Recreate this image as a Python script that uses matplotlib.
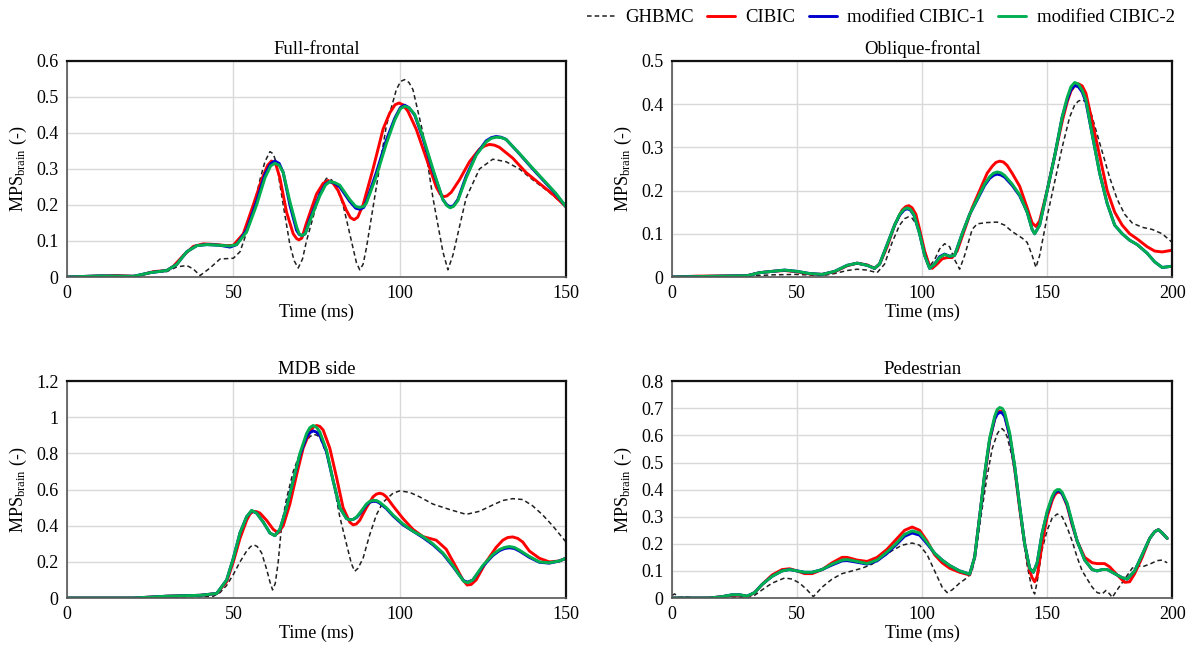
import matplotlib
matplotlib.use("Agg")
import matplotlib.pyplot as plt
from matplotlib.ticker import FuncFormatter, MultipleLocator

plt.rcParams["font.family"] = ["Liberation Serif", "DejaVu Serif"]
plt.rcParams["mathtext.fontset"] = "custom"
plt.rcParams["mathtext.rm"] = "Liberation Serif"
plt.rcParams["mathtext.it"] = "Liberation Serif:italic"

SERIES = ["GHBMC", "CIBIC", "modified CIBIC-1", "modified CIBIC-2"]

# ---- Full-frontal ----
ff_ghbmc_t = [0, 10, 20, 25, 30, 33, 36, 38, 40, 43, 46, 50, 52, 55, 58, 59.5, 61, 62, 63, 65, 67, 68.3, 69.5, 70.8, 72,
              75, 76.5, 78, 79.5, 81, 83, 86, 87, 88, 89, 90, 93, 96, 99, 100.3, 101.5, 102.8, 104, 107, 110, 113, 114.5,
              116, 117, 120, 124, 128, 132, 136, 140, 145, 150]
ff_ghbmc_y = [0, 0.002, 0.0, 0.012, 0.015, 0.028, 0.032, 0.022, 0.004, 0.025, 0.05, 0.052, 0.07, 0.15, 0.27, 0.32, 0.348,
              0.342, 0.315, 0.2, 0.09, 0.045, 0.025, 0.05, 0.1, 0.2, 0.25, 0.274, 0.27, 0.25, 0.2, 0.08, 0.04, 0.02, 0.035,
              0.08, 0.25, 0.42, 0.52, 0.543, 0.548, 0.54, 0.52, 0.4, 0.22, 0.07, 0.02, 0.06, 0.1, 0.22, 0.3, 0.327, 0.32,
              0.3, 0.27, 0.235, 0.195]
ff_cibic_t = [0, 10, 15, 20, 22, 26, 30, 32, 35, 38, 41, 45, 48, 50, 53, 56, 58.5, 60.3, 61.5, 62.8, 64, 66, 68, 69, 69.7,
              70.6, 72, 75, 77, 78.5, 80, 81.5, 84, 85.2, 86.3, 87.4, 89, 92, 95, 97, 98.6, 99.8, 101, 102.5, 105, 108,
              111, 112.2, 113.2, 114.2, 115.5, 118, 121, 124, 125.6, 127, 128.5, 130, 134, 138, 142, 146, 150]
ff_cibic_y = [0, 0.003, 0.004, 0.002, 0.005, 0.015, 0.018, 0.03, 0.06, 0.085, 0.092, 0.09, 0.087, 0.088, 0.12, 0.2, 0.27,
              0.31, 0.322, 0.312, 0.275, 0.18, 0.12, 0.107, 0.103, 0.108, 0.15, 0.23, 0.26, 0.268, 0.26, 0.24, 0.185,
              0.165, 0.159, 0.166, 0.2, 0.3, 0.41, 0.455, 0.478, 0.483, 0.478, 0.46, 0.41, 0.33, 0.25, 0.23, 0.223, 0.225,
              0.235, 0.27, 0.32, 0.355, 0.364, 0.368, 0.366, 0.36, 0.33, 0.29, 0.26, 0.23, 0.195]
ff_mod1_t = [0, 10, 20, 25, 30, 33, 36, 39, 42, 46, 49, 51, 54, 57, 59.5, 61.2, 62.5, 63.8, 65, 67, 69, 69.8, 70.6, 71.6,
             73, 76, 77.7, 79, 80.5, 82, 85, 86.8, 88, 89.2, 90, 93, 96, 98.5, 100.2, 101.5, 102.8, 104.5, 107, 110, 113,
             114.2, 115.2, 116.2, 117.5, 120, 123, 126, 127.6, 129, 130.5, 132, 136, 140, 144, 147, 150]
ff_mod1_y = [0, 0.003, 0.002, 0.012, 0.018, 0.035, 0.07, 0.087, 0.09, 0.088, 0.083, 0.09, 0.13, 0.21, 0.285, 0.314, 0.322,
             0.315, 0.29, 0.2, 0.13, 0.118, 0.115, 0.12, 0.16, 0.23, 0.258, 0.265, 0.26, 0.25, 0.21, 0.191, 0.188, 0.193,
             0.21, 0.29, 0.38, 0.44, 0.47, 0.477, 0.47, 0.45, 0.385, 0.295, 0.215, 0.2, 0.195, 0.198, 0.215, 0.28, 0.34,
             0.378, 0.387, 0.39, 0.388, 0.382, 0.342, 0.3, 0.26, 0.23, 0.195]
ff_mod2_t = ff_mod1_t
ff_mod2_y = [0, 0.003, 0.002, 0.012, 0.018, 0.035, 0.07, 0.087, 0.09, 0.088, 0.086, 0.09, 0.125, 0.2, 0.275, 0.308, 0.316,
             0.31, 0.29, 0.21, 0.14, 0.12, 0.115, 0.12, 0.155, 0.225, 0.255, 0.265, 0.262, 0.255, 0.215, 0.196, 0.193,
             0.196, 0.205, 0.28, 0.37, 0.435, 0.467, 0.474, 0.47, 0.452, 0.39, 0.3, 0.215, 0.198, 0.192, 0.196, 0.212,
             0.275, 0.338, 0.375, 0.385, 0.388, 0.387, 0.382, 0.343, 0.302, 0.262, 0.232, 0.195]

# ---- Oblique-frontal ----
of_ghbmc_t = [0, 10, 30, 40, 50, 60, 65, 70, 74, 78, 82, 85, 88, 91, 93, 94.5, 96, 98, 100, 103, 105, 107, 109, 111, 113,
              115, 117, 120, 122, 126, 130, 133, 136, 140, 142, 144, 145.5, 147, 150, 153, 156, 159, 161, 162.5, 164,
              165.5, 167, 169, 172, 175, 178, 181, 184, 188, 192, 196, 200]
of_ghbmc_y = [0, 0, 0.002, 0.005, 0.006, 0.003, 0.008, 0.015, 0.018, 0.016, 0.01, 0.03, 0.08, 0.12, 0.135, 0.139, 0.136,
              0.12, 0.08, 0.025, 0.04, 0.065, 0.077, 0.07, 0.04, 0.018, 0.05, 0.11, 0.123, 0.126, 0.127, 0.12, 0.105, 0.09,
              0.08, 0.05, 0.022, 0.05, 0.14, 0.22, 0.3, 0.37, 0.398, 0.407, 0.41, 0.405, 0.39, 0.35, 0.29, 0.23, 0.18,
              0.145, 0.125, 0.115, 0.11, 0.1, 0.08]
of_cibic_t = [0, 10, 30, 35, 40, 45, 50, 55, 60, 65, 70, 74, 78, 81, 83, 86, 89, 92, 93.5, 94.7, 96, 97.5, 99, 101, 103,
              104, 106, 108, 110, 112, 114, 117, 120, 123, 126, 128, 129.5, 131, 132.5, 134, 136, 139, 142, 144, 145.5,
              147, 150, 153, 156, 158, 159.5, 161, 162.5, 164, 165.5, 168, 171, 174, 177, 180, 183, 186, 190, 193, 196,
              200]
of_cibic_y = [0, 0.002, 0.003, 0.01, 0.013, 0.015, 0.012, 0.007, 0.006, 0.012, 0.026, 0.032, 0.028, 0.02, 0.03, 0.07,
              0.12, 0.155, 0.163, 0.165, 0.16, 0.145, 0.11, 0.06, 0.025, 0.02, 0.03, 0.042, 0.045, 0.045, 0.06, 0.11,
              0.16, 0.2, 0.24, 0.256, 0.265, 0.268, 0.266, 0.258, 0.24, 0.21, 0.16, 0.125, 0.117, 0.13, 0.2, 0.28, 0.36,
              0.405, 0.43, 0.443, 0.447, 0.442, 0.425, 0.36, 0.28, 0.2, 0.15, 0.12, 0.1, 0.088, 0.07, 0.06, 0.058, 0.062]
of_mod1_t = [0, 30, 35, 40, 45, 50, 55, 60, 65, 70, 74, 78, 81, 83, 86, 89, 91, 92.8, 94, 95.3, 96.8, 99, 101, 103, 105,
             107, 109, 111, 113, 116, 119, 122, 125, 127, 128.5, 130, 131.5, 133, 136, 139, 142, 144, 145, 147, 150, 153,
             156, 158, 159.5, 161, 162.5, 164, 165.5, 168, 171, 174, 177, 180, 183, 186, 190, 193, 196, 200]
of_mod1_y = [0, 0.003, 0.01, 0.013, 0.016, 0.013, 0.008, 0.006, 0.013, 0.027, 0.032, 0.027, 0.02, 0.03, 0.075, 0.12,
             0.143, 0.155, 0.158, 0.155, 0.142, 0.1, 0.05, 0.02, 0.03, 0.047, 0.053, 0.048, 0.05, 0.1, 0.145, 0.178,
             0.212, 0.228, 0.235, 0.238, 0.236, 0.231, 0.212, 0.188, 0.15, 0.11, 0.1, 0.12, 0.2, 0.28, 0.37, 0.41, 0.433,
             0.443, 0.44, 0.428, 0.405, 0.33, 0.24, 0.17, 0.12, 0.1, 0.085, 0.075, 0.055, 0.035, 0.022, 0.025]
of_mod2_t = of_mod1_t
of_mod2_y = [0, 0.003, 0.01, 0.013, 0.016, 0.013, 0.008, 0.006, 0.013, 0.027, 0.032, 0.027, 0.02, 0.03, 0.075, 0.12,
             0.145, 0.157, 0.16, 0.157, 0.143, 0.1, 0.05, 0.02, 0.03, 0.045, 0.052, 0.048, 0.05, 0.1, 0.145, 0.18, 0.215,
             0.232, 0.24, 0.243, 0.241, 0.235, 0.215, 0.19, 0.15, 0.11, 0.1, 0.12, 0.2, 0.28, 0.37, 0.415, 0.44, 0.45,
             0.446, 0.432, 0.41, 0.33, 0.24, 0.17, 0.12, 0.1, 0.085, 0.075, 0.055, 0.035, 0.022, 0.025]

# ---- MDB side ----
mdb_ghbmc_t = [0, 20, 30, 40, 44, 46, 48, 50, 52, 54, 55.2, 56.2, 57.2, 58.5, 60, 61, 61.8, 62.6, 63.5, 64.5, 66, 68, 70,
               72, 73, 74, 75, 76, 78, 80, 82, 84, 85.5, 86.5, 87.5, 89, 91, 93, 95, 98, 100, 103, 106, 110, 115, 120,
               124, 128, 131, 134, 137, 140, 143, 146, 150]
mdb_ghbmc_y = [0, 0, 0.005, 0.008, 0.01, 0.03, 0.07, 0.13, 0.2, 0.26, 0.285, 0.294, 0.285, 0.25, 0.16, 0.09, 0.045, 0.08,
               0.2, 0.4, 0.55, 0.7, 0.8, 0.87, 0.893, 0.905, 0.902, 0.89, 0.8, 0.65, 0.45, 0.3, 0.19, 0.148, 0.165, 0.22,
               0.35, 0.46, 0.53, 0.58, 0.593, 0.585, 0.56, 0.52, 0.49, 0.463, 0.48, 0.515, 0.54, 0.55, 0.545, 0.51, 0.46,
               0.4, 0.31]
mdb_cibic_t = [0, 20, 30, 40, 45, 48, 50, 52, 54, 55, 56, 57, 58, 60, 62, 63.5, 65, 67, 69, 71, 73, 74, 75, 76, 77, 79,
               81, 83, 85, 86, 87, 88, 90, 92, 93, 94, 95, 96, 98, 101, 104, 107, 111, 114, 117, 119, 120.3, 121.5, 123,
               126, 129, 131, 132.5, 134, 135.5, 137, 139, 142, 145, 148, 150]
mdb_cibic_y = [0, 0, 0.01, 0.015, 0.025, 0.09, 0.2, 0.33, 0.43, 0.465, 0.48, 0.478, 0.47, 0.43, 0.38, 0.36, 0.4, 0.52,
               0.68, 0.83, 0.92, 0.945, 0.955, 0.95, 0.93, 0.83, 0.67, 0.5, 0.42, 0.405, 0.41, 0.43, 0.5, 0.56, 0.575,
               0.58, 0.575, 0.56, 0.51, 0.44, 0.38, 0.34, 0.32, 0.27, 0.17, 0.1, 0.072, 0.075, 0.1, 0.2, 0.28, 0.32,
               0.335, 0.338, 0.33, 0.31, 0.26, 0.22, 0.2, 0.205, 0.22]
mdb_mod1_t = [0, 20, 30, 40, 45, 48, 50, 52, 54, 55.5, 57, 59, 61, 62.5, 64, 66, 68, 70, 72, 73, 74, 75, 76, 78, 80, 82,
              84, 85, 86, 87, 88, 90, 91, 92, 93, 94, 96, 98, 101, 104, 107, 110, 113, 116, 118, 119.3, 120.5, 122, 125,
              128, 130, 131.5, 133, 134.5, 136, 139, 142, 145, 148, 150]
mdb_mod1_y = [0, 0, 0.01, 0.015, 0.025, 0.1, 0.22, 0.36, 0.45, 0.483, 0.47, 0.42, 0.36, 0.345, 0.38, 0.5, 0.65, 0.79,
              0.89, 0.915, 0.925, 0.918, 0.9, 0.81, 0.65, 0.5, 0.44, 0.433, 0.435, 0.445, 0.465, 0.515, 0.53, 0.535,
              0.535, 0.525, 0.495, 0.455, 0.405, 0.37, 0.335, 0.295, 0.245, 0.175, 0.125, 0.095, 0.088, 0.1, 0.175,
              0.235, 0.262, 0.274, 0.278, 0.274, 0.26, 0.225, 0.198, 0.193, 0.205, 0.22]
mdb_mod2_t = mdb_mod1_t
mdb_mod2_y = [0, 0, 0.01, 0.015, 0.025, 0.1, 0.22, 0.36, 0.45, 0.485, 0.47, 0.42, 0.36, 0.345, 0.38, 0.5, 0.65, 0.8,
              0.91, 0.943, 0.955, 0.945, 0.92, 0.82, 0.65, 0.5, 0.44, 0.433, 0.435, 0.448, 0.47, 0.52, 0.535, 0.54, 0.54,
              0.53, 0.5, 0.46, 0.41, 0.37, 0.34, 0.3, 0.25, 0.18, 0.125, 0.092, 0.085, 0.1, 0.18, 0.24, 0.268, 0.28,
              0.285, 0.28, 0.265, 0.23, 0.2, 0.195, 0.205, 0.22]

# ---- Pedestrian ----
ped_ghbmc_t = [0, 1, 3, 5, 10, 20, 30, 33, 36, 40, 45, 48, 51, 54, 56.5, 60, 64, 68, 72, 76, 80, 84, 88, 92, 96, 99, 102,
               105, 108, 110, 112, 115, 118, 120, 122, 124, 126, 128, 130, 131, 132, 133, 134, 136, 138, 140, 142, 144,
               145, 146, 148, 150, 152, 154, 156, 158, 160, 162, 164, 166, 168, 170, 172, 173.5, 175, 176, 178, 181, 184,
               186, 188, 191, 194, 196, 198]
ped_ghbmc_y = [0.01, 0.015, 0.002, 0.005, 0.0, 0.005, 0.002, 0.01, 0.03, 0.055, 0.074, 0.07, 0.055, 0.03, 0.005, 0.04,
               0.07, 0.09, 0.1, 0.11, 0.125, 0.15, 0.175, 0.195, 0.203, 0.195, 0.16, 0.1, 0.04, 0.02, 0.03, 0.055, 0.075,
               0.1, 0.2, 0.33, 0.45, 0.55, 0.605, 0.62, 0.625, 0.615, 0.595, 0.52, 0.4, 0.25, 0.12, 0.03, 0.015, 0.06,
               0.18, 0.25, 0.295, 0.31, 0.3, 0.26, 0.21, 0.15, 0.1, 0.07, 0.04, 0.02, 0.015, 0.028, 0.015, 0.002, 0.03,
               0.07, 0.11, 0.12, 0.115, 0.125, 0.138, 0.14, 0.13]
ped_cibic_t = [0, 15, 20, 24, 27, 30, 33, 36, 40, 44, 47, 50, 53, 56, 60, 64, 68, 70, 74, 78, 82, 86, 90, 93, 96, 99,
               102, 105, 108, 111, 115, 119, 121, 123, 125, 127, 129, 130, 131, 132, 133, 135, 137, 139, 141, 143, 144,
               145, 146, 148, 150, 152, 153, 154, 155, 156, 158, 160, 162, 165, 168, 170, 173, 175, 178, 181, 183, 185,
               188, 191, 193, 194.5, 196, 198]
ped_cibic_y = [0, 0, 0.005, 0.01, 0.01, 0.005, 0.02, 0.05, 0.085, 0.105, 0.108, 0.1, 0.09, 0.09, 0.105, 0.13, 0.15, 0.15,
               0.14, 0.135, 0.15, 0.18, 0.22, 0.25, 0.262, 0.25, 0.21, 0.16, 0.13, 0.11, 0.095, 0.085, 0.15, 0.3, 0.45,
               0.58, 0.66, 0.682, 0.69, 0.688, 0.675, 0.6, 0.48, 0.33, 0.2, 0.1, 0.075, 0.06, 0.08, 0.2, 0.3, 0.36, 0.38,
               0.39, 0.39, 0.385, 0.34, 0.27, 0.21, 0.15, 0.13, 0.127, 0.127, 0.115, 0.085, 0.058, 0.06, 0.09, 0.15,
               0.22, 0.245, 0.252, 0.24, 0.22]
ped_mod1_t = [0, 15, 20, 24, 27, 30, 33, 36, 40, 44, 47, 50, 53, 56, 60, 64, 68, 70, 74, 78, 82, 86, 90, 93, 96, 99, 102,
              105, 108, 111, 115, 119, 121, 123, 125, 127, 129, 130, 131, 132, 133, 135, 137, 139, 141, 143, 144.5, 146,
              148, 150, 152, 153, 154, 155, 156, 158, 160, 162, 165, 168, 170, 172, 174, 177, 180, 182, 185, 188, 191,
              193, 194.5, 196, 198]
ped_mod1_y = [0, 0, 0.005, 0.012, 0.012, 0.007, 0.02, 0.05, 0.08, 0.1, 0.105, 0.1, 0.095, 0.095, 0.105, 0.122, 0.137,
              0.138, 0.132, 0.125, 0.137, 0.165, 0.2, 0.228, 0.24, 0.232, 0.2, 0.165, 0.14, 0.12, 0.1, 0.088, 0.15, 0.3,
              0.455, 0.585, 0.66, 0.678, 0.685, 0.683, 0.67, 0.6, 0.485, 0.34, 0.2, 0.11, 0.095, 0.13, 0.24, 0.315,
              0.37, 0.387, 0.395, 0.395, 0.385, 0.345, 0.275, 0.21, 0.14, 0.105, 0.1, 0.105, 0.105, 0.09, 0.075, 0.07,
              0.1, 0.16, 0.22, 0.245, 0.252, 0.24, 0.22]
ped_mod2_t = ped_mod1_t
ped_mod2_y = [0, 0, 0.005, 0.012, 0.012, 0.007, 0.02, 0.05, 0.08, 0.1, 0.105, 0.1, 0.095, 0.095, 0.105, 0.125, 0.14,
              0.142, 0.135, 0.127, 0.14, 0.17, 0.205, 0.235, 0.248, 0.24, 0.205, 0.165, 0.14, 0.12, 0.1, 0.088, 0.15,
              0.3, 0.46, 0.59, 0.67, 0.695, 0.703, 0.7, 0.685, 0.61, 0.49, 0.34, 0.2, 0.11, 0.095, 0.13, 0.24, 0.32,
              0.375, 0.393, 0.4, 0.4, 0.39, 0.35, 0.28, 0.21, 0.14, 0.105, 0.1, 0.105, 0.105, 0.09, 0.075, 0.07, 0.1,
              0.16, 0.22, 0.245, 0.252, 0.24, 0.22]

panels = [
    ("Full-frontal", 150, 0.6, 0.1,
     [(ff_ghbmc_t, ff_ghbmc_y), (ff_cibic_t, ff_cibic_y), (ff_mod1_t, ff_mod1_y), (ff_mod2_t, ff_mod2_y)]),
    ("Oblique-frontal", 200, 0.5, 0.1,
     [(of_ghbmc_t, of_ghbmc_y), (of_cibic_t, of_cibic_y), (of_mod1_t, of_mod1_y), (of_mod2_t, of_mod2_y)]),
    ("MDB side", 150, 1.2, 0.2,
     [(mdb_ghbmc_t, mdb_ghbmc_y), (mdb_cibic_t, mdb_cibic_y), (mdb_mod1_t, mdb_mod1_y), (mdb_mod2_t, mdb_mod2_y)]),
    ("Pedestrian", 200, 0.8, 0.1,
     [(ped_ghbmc_t, ped_ghbmc_y), (ped_cibic_t, ped_cibic_y), (ped_mod1_t, ped_mod1_y), (ped_mod2_t, ped_mod2_y)]),
]

styles = [
    dict(color="#202020", lw=1.1, ls=(0, (3, 2))),
    dict(color="#ff0000", lw=2.1),
    dict(color="#0000cc", lw=2.1),
    dict(color="#00b050", lw=2.1),
]

axes_rects = [
    (0.0564, 0.5758, 0.420, 0.331),
    (0.5657, 0.5758, 0.421, 0.331),
    (0.0564, 0.0842, 0.420, 0.332),
    (0.5657, 0.0842, 0.421, 0.332),
]

fig = plt.figure(figsize=(11.88, 6.53), dpi=100, facecolor="white")

handles = []
for rect, (title, xmax, ymax, ystep, data) in zip(axes_rects, panels):
    ax = fig.add_axes(rect)
    lines = []
    for (t, y), st, name in zip(data, styles, SERIES):
        ln, = ax.plot(t, y, label=name, solid_joinstyle="round", solid_capstyle="round", **st)
        lines.append(ln)
    handles = lines
    ax.set_xlim(0, xmax)
    ax.set_ylim(0, ymax)
    ax.xaxis.set_major_locator(MultipleLocator(50))
    ax.yaxis.set_major_locator(MultipleLocator(ystep))
    ax.yaxis.set_major_formatter(FuncFormatter(lambda v, _p: f"{v:g}"))
    ax.grid(True, color="#d9d9d9", linewidth=1.0)
    ax.set_axisbelow(True)
    ax.tick_params(length=0, labelsize=13, pad=6)
    for side in ["top", "right"]:
        ax.spines[side].set_color("#111111")
        ax.spines[side].set_linewidth(1.6)
    for side in ["left", "bottom"]:
        ax.spines[side].set_color("#555555")
        ax.spines[side].set_linewidth(1.2)
    ax.set_title(title, fontsize=13.5, pad=5)
    ax.set_xlabel("Time (ms)", fontsize=13, labelpad=1)
    ax.set_ylabel(r"MPS$_\mathrm{brain}$ (-)", fontsize=13, labelpad=5)

fig.legend(handles, SERIES, loc="upper right", bbox_to_anchor=(1.003, 1.012), ncol=4, frameon=False,
           fontsize=13.5, handlelength=1.5, columnspacing=0.7, handletextpad=0.55)

fig.savefig("out.png", dpi=100, facecolor="white")
